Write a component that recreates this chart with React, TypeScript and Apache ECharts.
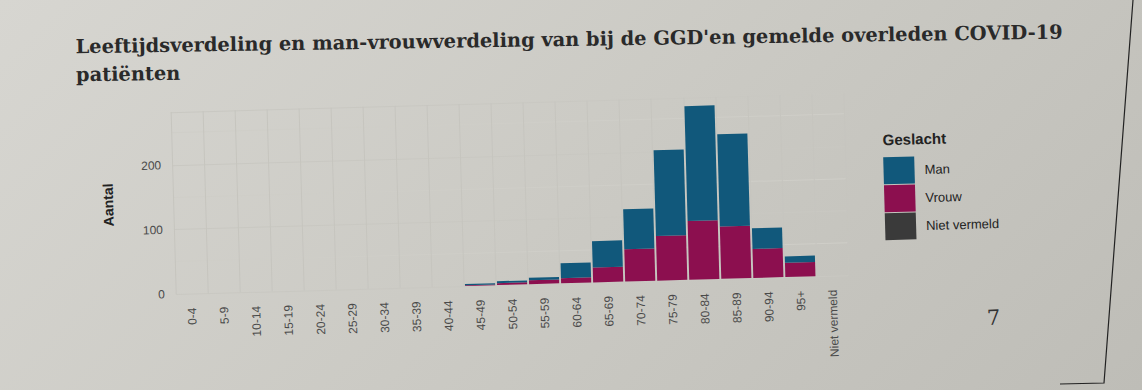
import React, { useEffect, useRef } from 'react';
import * as echarts from 'echarts';

const categories = ['0-4', '5-9', '10-14', '15-19', '20-24', '25-29', '30-34', '35-39', '40-44', '45-49', '50-54', '55-59', '60-64', '65-69', '70-74', '75-79', '80-84', '85-89', '90-94', '95+', 'Niet vermeld'];
const vrouw = [0, 0, 0, 0, 0, 0, 0, 0, 0, 1, 3, 6, 8, 23, 50, 69, 91, 81, 45, 22, 0];
const man = [0, 0, 0, 0, 0, 0, 0, 0, 0, 2, 3, 4, 23, 41, 62, 133, 178, 143, 32, 10, 0];
const nietVermeld = [0, 0, 0, 0, 0, 0, 0, 0, 0, 0, 0, 0, 0, 0, 0, 0, 0, 0, 0, 0, 0];
const yTickLabels = [0, 100, 200];
const legendNames = ['Man', 'Vrouw', 'Niet vermeld'];

const titleText = "Leeftijdsverdeling en man-vrouwverdeling van bij de GGD'en gemelde overleden COVID-19\npatiënten";

export default function App() {
  const ref = useRef<HTMLDivElement>(null);
  useEffect(() => {
    if (!ref.current) return;
    const chart = echarts.init(ref.current, null, { renderer: 'svg' });
    const sans = 'Liberation Sans, Arial, sans-serif';
    chart.setOption({
      animation: false,
      backgroundColor: 'transparent',
      grid: { left: 173, right: 296, top: 105, bottom: 103, containLabel: false },
      legend: {
        data: legendNames,
        orient: 'vertical',
        left: 879,
        top: 165,
        icon: 'rect',
        itemWidth: 31,
        itemHeight: 27,
        itemGap: 1,
        selectedMode: false,
        textStyle: { fontFamily: sans, fontSize: 13, color: '#222', padding: [0, 0, 0, 5] },
      },
      xAxis: {
        type: 'category',
        data: categories,
        axisLine: { show: false },
        axisTick: { show: false },
        axisLabel: {
          rotate: 90,
          interval: 0,
          margin: 14,
          fontFamily: sans,
          fontSize: 12,
          color: '#4a4a4a',
        },
        splitLine: { show: true, interval: 0, lineStyle: { color: '#c6c5bf', width: 1 } },
      },
      yAxis: {
        type: 'value',
        min: 0,
        max: 282,
        interval: 50,
        name: 'Aantal',
        nameLocation: 'middle',
        nameGap: 58,
        nameRotate: 90,
        nameTextStyle: { fontFamily: sans, fontSize: 14, fontWeight: 'bold', color: '#222' },
        axisLine: { show: false },
        axisTick: { show: false },
        axisLabel: {
          showMaxLabel: false,
          margin: 11,
          fontFamily: sans,
          fontSize: 12,
          color: '#4a4a4a',
          formatter: (v: number) => (yTickLabels.indexOf(v) >= 0 ? String(v) : ''),
        },
        splitLine: { show: true, lineStyle: { color: ['#c9c8c2', '#cfcec8'], width: 1 } },
      },
      series: [
        {
          name: 'Vrouw',
          type: 'bar',
          stack: 'g',
          data: vrouw,
          barCategoryGap: '6%',
          itemStyle: { color: '#8c0f4f' },
        },
        {
          name: 'Man',
          type: 'bar',
          stack: 'g',
          data: man,
          barCategoryGap: '6%',
          itemStyle: { color: '#11587b' },
        },
        {
          name: 'Niet vermeld',
          type: 'bar',
          stack: 'g',
          data: nietVermeld,
          barCategoryGap: '6%',
          itemStyle: { color: '#3a3a3a' },
        },
      ],
      graphic: [
        {
          type: 'text',
          x: 80,
          y: 23,
          rotation: -0.0133,
          style: {
            text: titleText,
            fontFamily: 'DejaVu Serif, serif',
            fontWeight: 'bold',
            fontSize: 19.4,
            lineHeight: 28,
            fill: '#2a2a2a',
            verticalAlign: 'top',
          },
        },
        {
          type: 'text',
          left: 884,
          top: 145,
          style: { text: 'Geslacht', fontFamily: sans, fontSize: 15, fontWeight: 'bold', fill: '#222' },
        },
        {
          type: 'text',
          left: 983,
          top: 323,
          style: { text: '7', fontFamily: 'DejaVu Serif, serif', fontSize: 21, fill: '#333' },
        },
      ],
    });
    return () => chart.dispose();
  }, []);
  return (
    <div
      style={{
        position: 'absolute',
        left: 0,
        top: 0,
        width: 1142,
        height: 390,
        overflow: 'hidden',
        background: 'linear-gradient(135deg, #d7d6d1 0%, #cbcac4 50%, #bebdb7 100%)',
      }}
    >
      <div
        ref={ref}
        style={{
          position: 'absolute',
          left: 0,
          top: 0,
          width: 1142,
          height: 390,
          transform: 'translate(0px, -4px) rotate(-1.6deg)',
          transformOrigin: '571px 195px',
        }}
      />
      <svg
        width={1142}
        height={390}
        style={{ position: 'absolute', left: 0, top: 0, pointerEvents: 'none' }}
      >
        <polyline points="1133,0 1104,383 1060,384" fill="none" stroke="#222" strokeWidth={1.2} />
      </svg>
    </div>
  );
}
